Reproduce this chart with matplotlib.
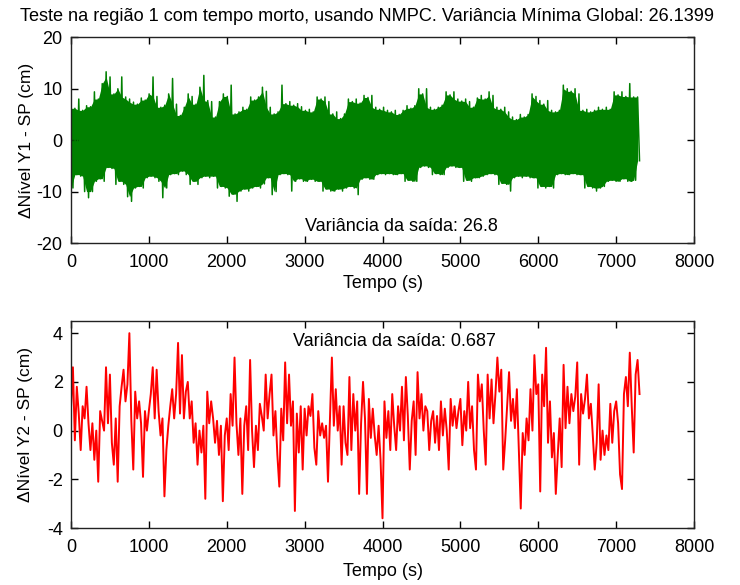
import numpy as np
import matplotlib
matplotlib.use("Agg")
import matplotlib.pyplot as plt

plt.rcParams["font.family"] = ["Liberation Sans", "DejaVu Sans"]
plt.rcParams["font.size"] = 13
plt.rcParams["axes.unicode_minus"] = False

# Duração do ensaio (s)
t_end = 7300

# Nível Y1 - SP (cm): picos e vales sucessivos do sinal
y1_picos = [
    7.1, 6.2, 8.0, 5.8, 6.7, 6.5, 9.4, 8.0, 11.0, 13.3,
    12.3, 9.0, 10.0, 12.3, 8.4, 8.0, 7.4, 7.0, 8.2, 7.8,
    9.0, 12.3, 8.5, 6.4, 6.8, 9.0, 12.0, 7.0, 4.8, 6.4,
    9.0, 8.5, 7.0, 10.3, 12.6, 7.7, 7.5, 4.5, 7.5, 9.0,
    8.5, 10.7, 5.1, 5.5, 6.4, 6.0, 8.4, 7.8, 8.4, 10.3,
    9.5, 6.4, 5.1, 5.5, 10.7, 7.1, 7.5, 6.8, 7.1, 6.5,
    5.8, 6.0, 5.5, 8.4, 8.0, 8.4, 7.5, 5.1, 5.5, 4.2,
    5.1, 8.0, 7.5, 8.0, 7.2, 8.7, 8.3, 8.7, 6.4, 6.0,
    6.4, 5.8, 5.5, 5.8, 5.0, 5.8, 6.7, 6.2, 6.7, 10.0,
    9.0, 10.0, 6.4, 6.0, 6.4, 6.8, 9.4, 8.8, 9.4, 8.0,
    7.6, 8.0, 7.5, 6.4, 8.2, 8.7, 8.0, 9.4, 8.7, 6.4,
    6.0, 6.4, 5.5, 4.5, 4.0, 5.0, 4.5, 5.0, 9.0, 8.5,
    7.7, 7.0, 7.7, 5.8, 5.5, 5.8, 10.7, 10.0, 9.5, 10.0,
    9.0, 5.8, 6.0, 5.5, 5.8, 6.4, 6.0, 6.4, 6.0, 9.4,
    8.8, 9.4, 8.5, 11.0, 8.4, 8.4,
]
y1_vales = [
    -9.3, -6.7, -7.0, -10.0, -11.2, -10.0, -8.0, -7.5, -8.0, -5.3,
    -5.5, -8.6, -8.0, -8.6, -11.0, -11.9, -9.3, -9.0, -9.3, -7.3,
    -7.0, -7.3, -8.0, -11.2, -9.3, -6.7, -6.5, -6.7, -6.0, -6.7,
    -8.6, -8.0, -8.6, -7.3, -7.0, -7.3, -7.0, -9.3, -9.0, -9.3,
    -10.9, -10.5, -11.9, -9.9, -9.5, -9.9, -9.3, -9.0, -9.3, -8.5,
    -7.3, -10.6, -10.0, -6.7, -6.5, -6.7, -9.9, -8.0, -7.5, -8.0,
    -8.0, -7.6, -8.0, -8.0, -9.9, -9.5, -9.9, -9.9, -9.5, -9.9,
    -9.3, -9.0, -9.3, -10.6, -7.6, -7.3, -7.6, -7.6, -6.7, -6.5,
    -6.7, -6.5, -6.7, -6.7, -6.5, -8.0, -7.8, -8.0, -8.0, -5.3,
    -5.0, -5.3, -6.7, -6.5, -6.7, -6.7, -5.3, -5.0, -5.3, -5.3,
    -8.0, -7.8, -8.0, -7.3, -7.3, -7.0, -6.7, -6.5, -6.7, -8.6,
    -8.4, -8.6, -9.9, -7.3, -7.0, -7.3, -7.0, -7.3, -7.3, -9.3,
    -9.0, -9.3, -9.0, -9.3, -6.7, -6.5, -6.7, -6.7, -6.5, -6.7,
    -6.7, -9.3, -9.0, -9.3, -9.9, -9.3, -9.0, -8.0, -7.8, -8.0,
    -8.0, -7.5, -8.0, -8.0, -7.8, -4.0,
]

# Nível Y2 - SP (cm)
y2 = [
    0.9, 2.6, -0.4, 1.8, 0.7, -0.8, 1.0, 0.5, 1.8, 0.3,
    -0.8, 0.3, -1.2, 0.0, -2.1, 0.8, 0.4, 0.0, 2.6, 0.3,
    2.3, -0.5, -1.4, 0.5, -2.1, 1.0, 1.8, 2.5, 1.2, 1.9,
    4.0, 0.4, -1.6, 1.6, 0.5, 1.2, 0.3, -1.9, 0.8, 0.0,
    0.8, 1.5, 2.6, 0.5, 2.5, 0.8, -0.2, 0.5, -2.7, -0.8,
    0.2, 1.0, 1.7, 0.5, 1.5, 3.6, 0.7, 3.1, 0.5, 1.6,
    2.0, 0.5, 1.2, -0.5, 0.3, -1.4, 0.0, -0.9, 0.2, -2.8,
    1.6, 0.3, 1.2, 0.5, -0.5, 0.4, -1.0, 0.2, -2.9, -0.2,
    0.5, -0.8, 1.5, 0.2, 3.0, 0.3, -1.0, 0.5, -2.6, 0.2,
    1.0, -0.8, 2.9, 0.0, -1.5, 0.2, -0.8, 1.1, 0.6, 0.0,
    2.3, 0.5, 1.5, 2.3, -0.2, 0.8, -1.0, -2.3, 0.9, -0.4,
    2.8, 0.3, 2.3, 0.2, 1.2, -3.3, 0.7, -0.9, 1.0, -1.6,
    0.9, -0.2, 1.0, 0.6, 1.5, -0.7, -1.4, 0.8, -0.2, 0.3,
    -0.3, 0.2, -2.1, 0.5, 3.0, 0.2, 1.7, 0.0, 1.0, -1.4,
    1.0, -0.5, -1.0, 2.2, -0.8, 1.5, 0.0, 1.2, -2.6, 0.3,
    2.0, 0.5, -2.6, 1.3, -0.3, 0.9, -0.2, -1.0, 0.2, -1.2,
    -3.6, 1.2, -0.3, 0.8, -0.8, 1.5, 0.2, -0.8, 1.0, 0.0,
    1.8, -0.4, 2.2, 0.6, -1.6, 0.4, 1.2, -1.0, 2.4, 0.5,
    1.5, 0.0, 1.0, 0.8, -0.8, 0.4, 0.8, -0.5, 0.6, -0.8,
    1.2, -0.2, 0.9, 0.0, -1.6, 1.3, 0.2, 1.0, 0.1, 0.8,
    1.3, -0.6, 0.8, 0.0, 2.0, 0.1, 1.0, -0.8, -1.6, 2.3,
    1.2, 1.9, 0.0, -1.4, 2.3, 0.5, 2.1, 0.3, 1.5, 3.0,
    1.6, 2.5, -1.6, -0.4, 1.0, 2.4, 0.4, 1.3, 0.1, 1.7,
    -0.8, -3.2, -0.1, -1.0, 0.5, -0.4, 1.7, 0.0, 3.1, 1.5,
    1.9, -2.5, 2.3, 1.0, 3.4, -0.5, 1.2, -1.1, -0.1, -2.6,
    -1.0, 0.5, -1.5, 2.7, 0.1, 1.8, 0.3, 1.5, 0.8, 1.4,
    2.8, -1.4, 1.5, 0.7, 1.3, 2.3, 0.5, 1.1, -0.2, -1.6,
    -0.5, 1.9, -1.2, 0.0, -1.0, -0.2, -0.8, 1.1, -0.5, 0.8,
    1.2, 0.3, -1.8, -2.4, 1.5, 2.2, 1.0, 3.2, 1.0, -0.9,
    2.3, 2.9, 1.5,
]

# Alterna picos e vales na ordem temporal
picos = np.asarray(y1_picos)
vales = np.asarray(y1_vales)
y1 = np.column_stack([picos, vales]).ravel()
t1 = np.linspace(0, t_end, y1.size)
t2 = np.linspace(0, t_end, len(y2))

# Faixa interna do sinal Y1: menor pico vizinho / maior vale vizinho
t_picos = t1[0::2]
core_hi = np.minimum(picos, np.r_[picos[1:], picos[-1]])
core_lo = np.maximum(vales, np.r_[vales[0], vales[:-1]])

x_ticks = np.arange(0, 8001, 1000)
green = "#008000"
red = "#ff0000"

fig = plt.figure(figsize=(7.4, 5.85), dpi=100, facecolor="white")
ax1 = fig.add_axes([0.0959, 0.5846, 0.842, 0.3516])
ax2 = fig.add_axes([0.0959, 0.0974, 0.842, 0.3539])

ax1.fill_between(t_picos, core_lo, core_hi, color=green, lw=0)
ax1.plot(t1, y1, color=green, lw=1.1)
ax2.plot(t2, y2, color=red, lw=1.4)

for ax in (ax1, ax2):
    ax.set_xlim(0, 8000)
    ax.set_xticks(x_ticks)
    ax.tick_params(direction="in", top=True, right=True, length=5,
                   width=1, pad=8, labelsize=13)
    ax.tick_params(axis="y", pad=6)
    for s in ax.spines.values():
        s.set_linewidth(1)
        s.set_color("#222222")
    ax.set_xlabel("Tempo (s)", fontsize=13, labelpad=3)

ax1.set_ylim(-20, 20)
ax1.set_yticks([-20, -10, 0, 10, 20])
ax1.set_ylabel("\u0394Nível Y1 - SP (cm)", fontsize=12.5, labelpad=2)
ax1.set_title("Teste na região 1 com tempo morto, usando NMPC. "
              "Variância Mínima Global: 26.1399", fontsize=13.1, pad=12,
              x=0.475)
ax1.text(3005, -16.7, "Variância da saída: 26.8", ha="left", va="center",
         fontsize=13)

ax2.set_ylim(-4, 4.5)
ax2.set_yticks([-4, -2, 0, 2, 4])
ax2.set_ylabel("\u0394Nível Y2 - SP (cm)", fontsize=12.5, labelpad=10)
ax2.xaxis.labelpad = 5
ax2.text(2851, 3.67, "Variância da saída: 0.687", ha="left", va="center",
         fontsize=13)

fig.savefig("out.png", dpi=100, facecolor="white")
